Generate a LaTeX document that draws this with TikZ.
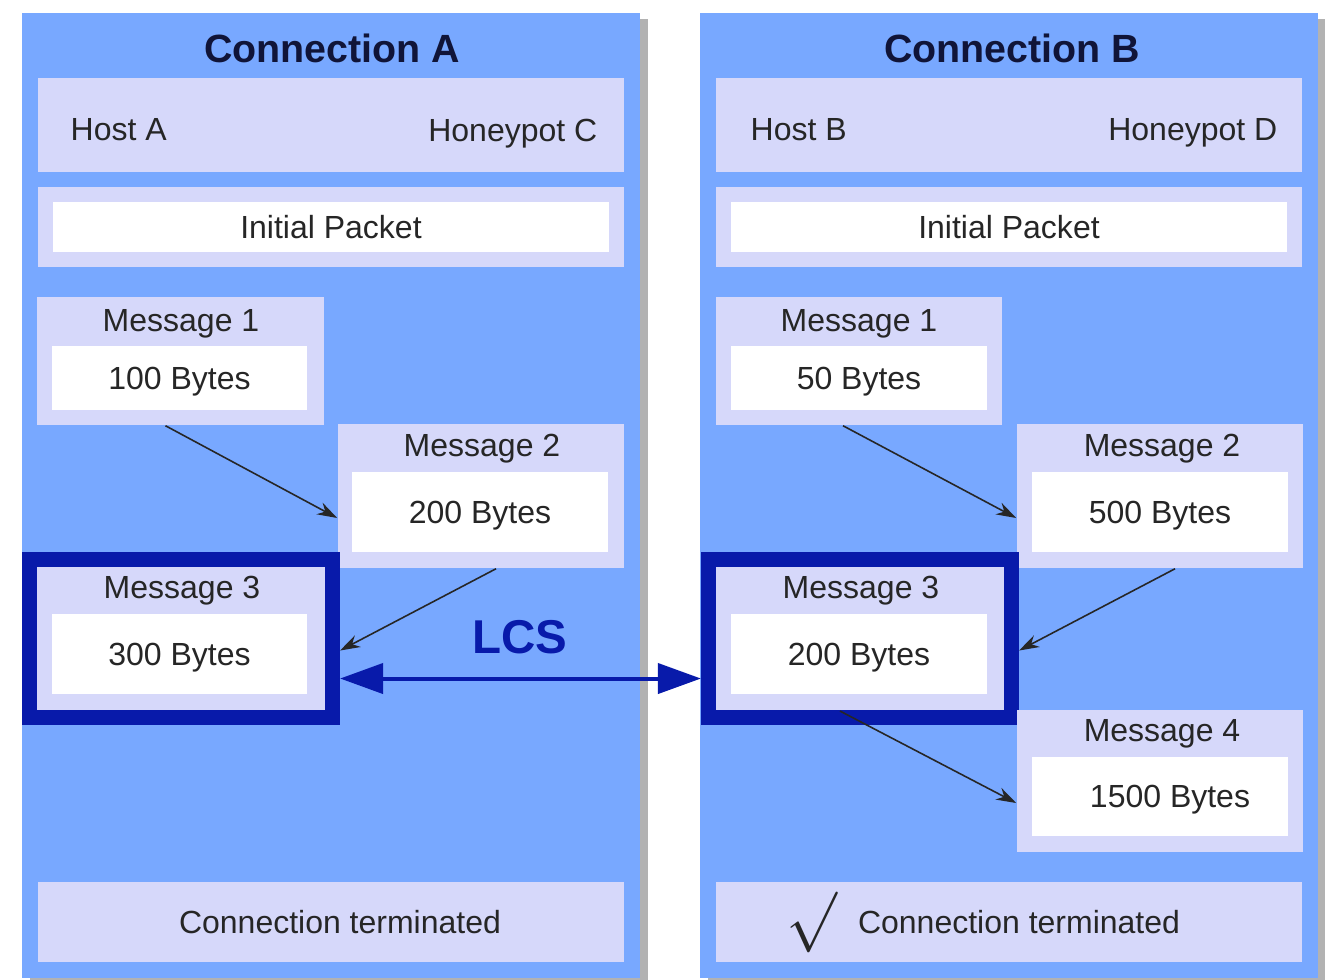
\documentclass[tikz,border=0pt]{standalone}
\usepackage{fontspec}
\setmainfont{Liberation Sans}
\usetikzlibrary{arrows.meta,shadows}
\definecolor{panelblue}{RGB}{120,168,255}
\definecolor{lavender}{RGB}{214,216,250}
\definecolor{lcsblue}{RGB}{8,26,170}
\definecolor{inkblue}{RGB}{16,20,56}
\newcommand{\msgfont}{\fontsize{9.1}{11}\selectfont}

\begin{document}
\begin{tikzpicture}[x=0.01cm,y=-0.01cm,>={Stealth[length=2mm,width=1.3mm]},
    panel/.style={rectangle,fill=panelblue,minimum width=6.18cm,minimum height=9.65cm,
      drop shadow={shadow xshift=0.08cm,shadow yshift=-0.06cm,fill=black!30,opacity=1}},
    band/.style={rectangle,fill=lavender,minimum width=5.86cm,minimum height=0.8cm,inner sep=0pt},
    msg/.style={rectangle,fill=lavender,minimum width=2.86cm,minimum height=1.44cm,inner sep=0pt},
    chosen/.style={rectangle,fill=lavender,draw=lcsblue,line width=0.15cm,
      minimum width=3.03cm,minimum height=1.58cm,inner sep=0pt},
    payload/.style={rectangle,fill=white,minimum width=2.55cm,minimum height=0.8cm,
      inner sep=0pt,font=\msgfont,text=black!85,text depth=0pt},
    plain/.style={font=\msgfont,text=black!85,text depth=0pt,inner sep=0pt},
    title/.style={font=\fontsize{11.2}{13}\selectfont\bfseries,text=inkblue}]
  \useasboundingbox (0,0) rectangle (1325,980);
  % the two connections
  \node[panel] (pa) at (331,495.5) {};
  \node[panel] (pb) at (1009,495.5) {};
  \node[title] (ta) at (332,48) {Connection A};
  \node[title] (tb) at (1012,48) {Connection B};
  % hosts
  \node[band,minimum height=0.94cm] (ha) at (331,125) {};
  \node[plain,anchor=west] (hosta) at (70,130) {Host A};
  \node[plain,anchor=east] (pota) at (598,130) {Honeypot C};
  \node[band,minimum height=0.94cm] (hb) at (1009,125) {};
  \node[plain,anchor=west] (hostb) at (750,130) {Host B};
  \node[plain,anchor=east] (potb) at (1278,130) {Honeypot D};
  % initial packets
  \node[band] (ia) at (331,227) {};
  \node[payload,minimum width=5.56cm,minimum height=0.49cm] (pia) at (ia) {Initial Packet};
  \node[band] (ib) at (1009,227) {};
  \node[payload,minimum width=5.56cm,minimum height=0.49cm] (pib) at (ib) {Initial Packet};
  % messages of A
  \node[msg,minimum height=1.28cm] (a1) at (180.5,361) {};
  \node[plain] (la1) at (181,320) {Message 1};
  \node[payload,minimum height=0.64cm] (da1) at (179.5,378) {100 Bytes};
  \node[msg] (a2) at (481,496) {};
  \node[plain] (la2) at (482,445) {Message 2};
  \node[payload] (da2) at (480,512) {200 Bytes};
  \node[chosen] (a3) at (181,638.5) {};
  \node[plain] (la3) at (182,587) {Message 3};
  \node[payload] (da3) at (179.5,654) {300 Bytes};
  % messages of B
  \node[msg,minimum height=1.28cm] (b1) at (859,361) {};
  \node[plain] (lb1) at (859,320) {Message 1};
  \node[payload,minimum height=0.64cm] (db1) at (859,378) {50 Bytes};
  \node[msg] (b2) at (1160,496) {};
  \node[plain] (lb2) at (1162,445) {Message 2};
  \node[payload] (db2) at (1160,512) {500 Bytes};
  \node[chosen] (b3) at (860,638.5) {};
  \node[plain] (lb3) at (861,587) {Message 3};
  \node[payload] (db3) at (859,654) {200 Bytes};
  \node[msg,minimum height=1.42cm] (b4) at (1160,781) {};
  \node[plain] (lb4) at (1162,730) {Message 4};
  \node[payload,minimum height=0.79cm] (db4) at (1160,796.5) {\hspace{0.2cm}1500 Bytes};
  % end of connection
  \node[band,plain] (ea) at (331,922) {\hspace{0.18cm}Connection terminated};
  \node[band] (eb) at (1009,922) {};
  \node[font=\fontsize{16}{18}\selectfont,text=black!85] (tick) at (812,922) {$\surd$};
  \node[plain] (teb) at (1019,922) {Connection terminated};
  \node[font=\fontsize{13.5}{16}\selectfont\bfseries,text=lcsblue] (lcs) at (520,637) {LCS};
  \path[every edge/.append style={->,draw=black!85,line width=0.45pt}]
    ([xshift=-0.15cm]a1.south) edge ([yshift=-0.22cm]a2.west)
    ([xshift=0.15cm]a2.south) edge ([yshift=-0.12cm]a3.east)
    ([xshift=-0.16cm]b1.south) edge ([yshift=-0.22cm]b2.west)
    ([xshift=0.15cm]b2.south) edge ([yshift=-0.12cm]b3.east)
    ([xshift=-0.2cm,yshift=0.14cm]b3.south) edge ([yshift=-0.22cm]b4.west);
  \draw[{Triangle[length=0.43cm,width=0.3cm]}-{Triangle[length=0.43cm,width=0.3cm]},
    draw=lcsblue,fill=lcsblue,line width=0.04cm]
    ([yshift=-0.4cm]a3.east) -- ([yshift=-0.4cm]b3.west);
\end{tikzpicture}
\end{document}
